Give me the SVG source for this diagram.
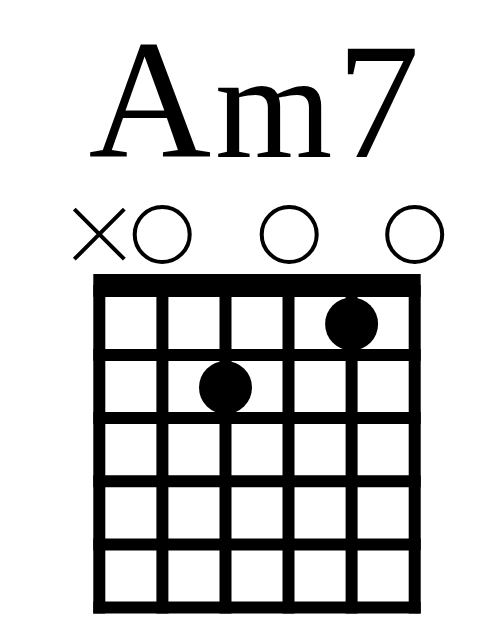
<svg xmlns="http://www.w3.org/2000/svg" width="500" height="625" viewBox="0 0 500 625">
<style>
.title{font-family:"Liberation Serif","Times New Roman",serif;font-size:170px;fill:#000}
.line{stroke:#000;stroke-width:12;fill:none}
.mark{stroke:#000;stroke-width:4;fill:none}
.dot{fill:#000}
</style>
<rect width="500" height="625" fill="#fff"/>
<g id="title"><text class="title" y="156.7"><tspan x="88.5">A</tspan><tspan x="215" style="font-size:151px">m</tspan><tspan x="337" style="font-size:165px">7</tspan></text></g>
<g id="open-muted">
<g id="mute-6"><path class="mark" d="M74.3 209.2L124.3 259.2M124.3 209.2L74.3 259.2"/></g>
<g id="open-5"><circle class="mark" cx="162.2" cy="234.5" r="27.5"/></g>
<g id="open-3"><circle class="mark" cx="289.2" cy="234.5" r="27.5"/></g>
<g id="open-1"><circle class="mark" cx="414.7" cy="234.5" r="27.5"/></g>
</g>
<g id="grid">
<rect id="nut" x="93.3" y="274" width="327.4" height="23" fill="#000"/>
<g id="strings">
<line class="line" x1="99.3" y1="285" x2="99.3" y2="613.5"/>
<line class="line" x1="162.4" y1="285" x2="162.4" y2="613.5"/>
<line class="line" x1="225.5" y1="285" x2="225.5" y2="613.5"/>
<line class="line" x1="288.5" y1="285" x2="288.5" y2="613.5"/>
<line class="line" x1="351.6" y1="285" x2="351.6" y2="613.5"/>
<line class="line" x1="414.7" y1="285" x2="414.7" y2="613.5"/>
</g>
<g id="frets">
<line class="line" x1="93.3" y1="355" x2="420.7" y2="355"/>
<line class="line" x1="93.3" y1="418" x2="420.7" y2="418"/>
<line class="line" x1="93.3" y1="481.2" x2="420.7" y2="481.2"/>
<line class="line" x1="93.3" y1="544.4" x2="420.7" y2="544.4"/>
<line class="line" x1="93.3" y1="607.5" x2="420.7" y2="607.5"/>
</g>
</g>
<g id="fingers">
<g id="finger-2"><circle class="dot" cx="351.6" cy="324" r="26.5"/></g>
<g id="finger-4"><circle class="dot" cx="225.5" cy="387.5" r="26.5"/></g>
</g>
</svg>
